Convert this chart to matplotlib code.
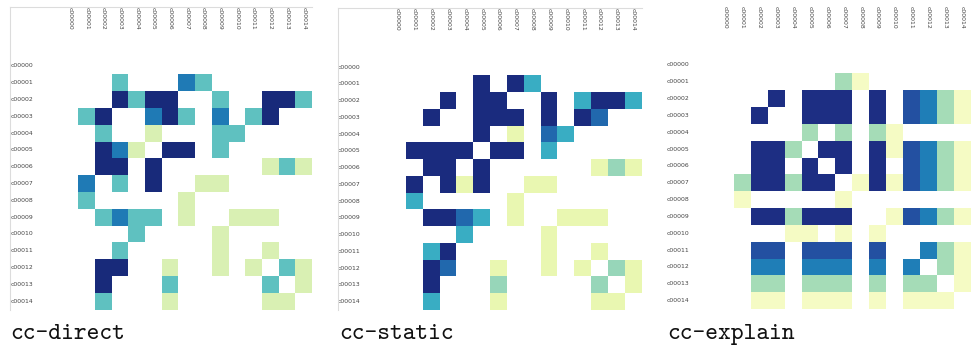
import numpy as np
import matplotlib
matplotlib.use("Agg")
import matplotlib.pyplot as plt
from matplotlib.lines import Line2D
from matplotlib.transforms import blended_transform_factory

# cluster identifiers shared by rows and columns
clusters = [f"c{i:05d}" for i in range(15)]

# co-occurrence strength per cluster pair (0 = no link)
cc_direct = [
    [0, 0, 0, 0, 0, 0, 0, 0, 0, 0, 0, 0, 0, 0, 0],
    [0, 0, 0, 2, 0, 0, 0, 3, 2, 0, 0, 0, 0, 0, 0],
    [0, 0, 0, 4, 2, 4, 4, 0, 0, 2, 0, 0, 4, 4, 2],
    [0, 2, 4, 0, 0, 3, 4, 2, 0, 3, 0, 2, 4, 0, 0],
    [0, 0, 2, 0, 0, 1, 0, 0, 0, 2, 2, 0, 0, 0, 0],
    [0, 0, 4, 3, 1, 0, 4, 4, 0, 2, 0, 0, 0, 0, 0],
    [0, 0, 4, 4, 0, 4, 0, 0, 0, 0, 0, 0, 1, 2, 1],
    [0, 3, 0, 2, 0, 4, 0, 0, 1, 1, 0, 0, 0, 0, 0],
    [0, 2, 0, 0, 0, 0, 0, 1, 0, 0, 0, 0, 0, 0, 0],
    [0, 0, 2, 3, 2, 2, 0, 1, 0, 0, 1, 1, 1, 0, 0],
    [0, 0, 0, 0, 2, 0, 0, 0, 0, 1, 0, 0, 0, 0, 0],
    [0, 0, 0, 2, 0, 0, 0, 0, 0, 1, 0, 0, 1, 0, 0],
    [0, 0, 4, 4, 0, 0, 1, 0, 0, 1, 0, 1, 0, 2, 1],
    [0, 0, 4, 0, 0, 0, 2, 0, 0, 0, 0, 0, 2, 0, 1],
    [0, 0, 2, 0, 0, 0, 1, 0, 0, 0, 0, 0, 1, 1, 0],
]

cc_static = [
    [0, 0, 0, 0, 0, 0, 0, 0, 0, 0, 0, 0, 0, 0, 0],
    [0, 0, 0, 0, 0, 5, 0, 5, 3, 0, 0, 0, 0, 0, 0],
    [0, 0, 0, 5, 0, 5, 5, 0, 0, 5, 0, 3, 5, 5, 3],
    [0, 0, 5, 0, 0, 5, 5, 5, 0, 5, 0, 5, 4, 0, 0],
    [0, 0, 0, 0, 0, 5, 0, 1, 0, 4, 3, 0, 0, 0, 0],
    [0, 5, 5, 5, 5, 0, 5, 5, 0, 3, 0, 0, 0, 0, 0],
    [0, 0, 5, 5, 0, 5, 0, 0, 0, 0, 0, 0, 1, 2, 1],
    [0, 5, 0, 5, 1, 5, 0, 0, 1, 1, 0, 0, 0, 0, 0],
    [0, 3, 0, 0, 0, 0, 0, 1, 0, 0, 0, 0, 0, 0, 0],
    [0, 0, 5, 5, 4, 3, 0, 1, 0, 0, 1, 1, 1, 0, 0],
    [0, 0, 0, 0, 3, 0, 0, 0, 0, 1, 0, 0, 0, 0, 0],
    [0, 0, 3, 5, 0, 0, 0, 0, 0, 1, 0, 0, 1, 0, 0],
    [0, 0, 5, 4, 0, 0, 1, 0, 0, 1, 0, 1, 0, 2, 1],
    [0, 0, 5, 0, 0, 0, 2, 0, 0, 0, 0, 0, 2, 0, 1],
    [0, 0, 3, 0, 0, 0, 1, 0, 0, 0, 0, 0, 1, 1, 0],
]

cc_explain = [
    [0, 0, 0, 0, 0, 0, 0, 0, 0, 0, 0, 0, 0, 0, 0],
    [0, 0, 0, 0, 0, 0, 0, 3, 1, 0, 0, 0, 0, 0, 0],
    [0, 0, 0, 8, 0, 8, 8, 8, 0, 8, 0, 7, 6, 3, 1],
    [0, 0, 8, 0, 0, 8, 8, 8, 0, 8, 0, 7, 6, 3, 1],
    [0, 0, 0, 0, 0, 3, 0, 3, 0, 3, 1, 0, 0, 0, 0],
    [0, 0, 8, 8, 3, 0, 8, 8, 0, 8, 1, 7, 6, 3, 1],
    [0, 0, 8, 8, 0, 8, 0, 8, 0, 8, 0, 7, 6, 3, 1],
    [0, 3, 8, 8, 3, 8, 8, 0, 1, 8, 1, 7, 6, 3, 1],
    [0, 1, 0, 0, 0, 0, 0, 1, 0, 0, 0, 0, 0, 0, 0],
    [0, 0, 8, 8, 3, 8, 8, 8, 0, 0, 1, 7, 6, 3, 1],
    [0, 0, 0, 0, 1, 1, 0, 1, 0, 1, 0, 0, 0, 0, 0],
    [0, 0, 7, 7, 0, 7, 7, 7, 0, 7, 0, 0, 6, 3, 1],
    [0, 0, 6, 6, 0, 6, 6, 6, 0, 6, 0, 6, 0, 3, 1],
    [0, 0, 3, 3, 0, 3, 3, 3, 0, 3, 0, 3, 3, 0, 1],
    [0, 0, 1, 1, 0, 1, 1, 1, 0, 1, 0, 1, 1, 1, 0],
]

titles = ["cc-direct", "cc-static", "cc-explain"]

W, H = 971, 349
fig = plt.figure(figsize=(W / 100, H / 100), dpi=100)
fig.patch.set_facecolor("white")

cmap = plt.get_cmap("YlGnBu").copy()
cmap.set_bad((1, 1, 1, 0))

# pixel layout for each panel: grid box, colour range, label/title anchors, frame
panels = [
    dict(data=cc_direct, box=(61.6, 57.5, 312.0, 309.5), vmin=0.2, vmax=4.3,
         row_x=10.3, col_top=7.0, title_x=10.5, frame=(10.3, 7.3, 312.0, 309.5)),
    dict(data=cc_static, box=(389.0, 58.7, 641.7, 310.0), vmin=0.28, vmax=5.41,
         row_x=337.5, col_top=8.0, title_x=339.0, frame=(338.0, 8.0, 642.0, 310.0)),
    dict(data=cc_explain, box=(717.0, 56.5, 970.5, 309.0), vmin=0.42, vmax=8.75,
         row_x=667.0, col_top=6.0, title_x=667.5, frame=None),
]

label_kw = dict(fontsize=4.4, color="#444444", family="DejaVu Sans")

for p, title in zip(panels, titles):
    x0, y0, x1, y1 = p["box"]
    ax = fig.add_axes([x0 / W, 1 - y1 / H, (x1 - x0) / W, (y1 - y0) / H])
    vals = np.ma.masked_equal(np.array(p["data"], dtype=float), 0)
    ax.pcolormesh(np.arange(16), np.arange(16), vals, cmap=cmap,
                  vmin=p["vmin"], vmax=p["vmax"], shading="flat")
    ax.set_xlim(0, 15)
    ax.set_ylim(15, 0)
    ax.set_axis_off()

    # row labels, left aligned at the panel edge
    tr_rows = blended_transform_factory(fig.transFigure, ax.transData)
    for i, name in enumerate(clusters):
        ax.text(p["row_x"] / W, i + 0.5, name, transform=tr_rows,
                ha="left", va="center", clip_on=False, **label_kw)

    # column labels, rotated and hanging from the top
    tr_cols = blended_transform_factory(ax.transData, fig.transFigure)
    for j, name in enumerate(clusters):
        ax.text(j + 0.5, 1 - p["col_top"] / H, name, transform=tr_cols,
                ha="center", va="top", rotation=270, clip_on=False, **label_kw)

    if p["frame"] is not None:
        fx0, fy0, fx1, fy1 = p["frame"]
        frame_kw = dict(color="#dcdcdc", linewidth=0.8, transform=fig.transFigure)
        fig.add_artist(Line2D([fx0 / W, fx1 / W], [1 - fy0 / H, 1 - fy0 / H], **frame_kw))
        fig.add_artist(Line2D([fx0 / W, fx0 / W], [1 - fy0 / H, 1 - fy1 / H], **frame_kw))

    fig.text(p["title_x"] / W, 1 - 339.0 / H, title, family="cmtt10",
             fontsize=17.5, color="#111111", ha="left", va="baseline")

fig.savefig("out.png", dpi=100, facecolor="white")
